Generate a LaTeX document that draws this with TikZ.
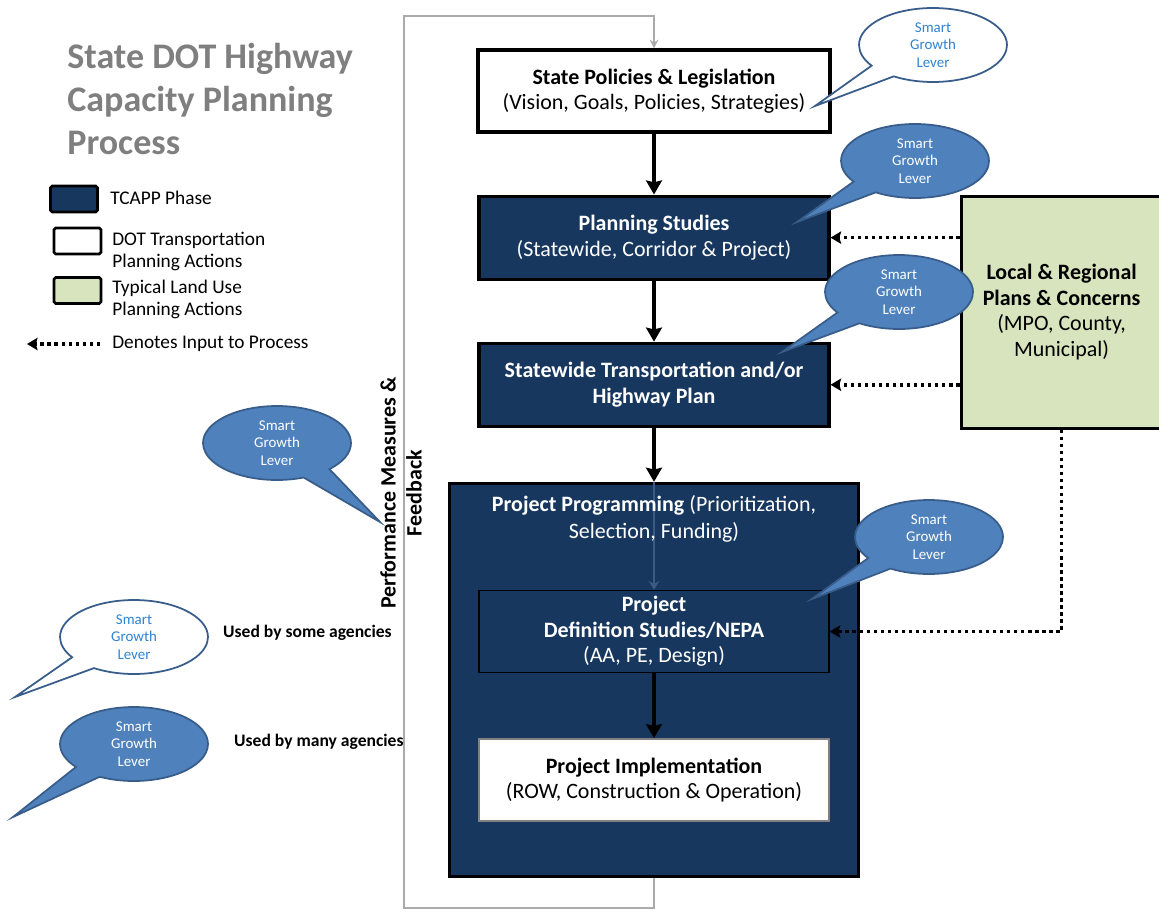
\documentclass[tikz,border=0pt]{standalone}
\usepackage{fontspec}
\setmainfont{Carlito}
\usepackage{xcolor}
\usetikzlibrary{shapes.geometric, shapes.callouts, arrows.meta, positioning}
\definecolor{tcappblue}{RGB}{23,55,94}
\definecolor{landgreen}{RGB}{215,228,189}
\definecolor{leverfill}{RGB}{79,129,189}
\definecolor{leverdraw}{RGB}{56,93,138}
\definecolor{levertext}{RGB}{46,132,210}
\definecolor{titlegray}{RGB}{127,127,127}
\definecolor{loopgray}{RGB}{170,170,170}
\definecolor{innerline}{RGB}{60,90,130}
\newcommand{\bxfont}{\fontsize{12.5}{14.5}\selectfont}
\newcommand{\lgfont}{\fontsize{11}{12.5}\selectfont}
\tikzstyle{phase} = [rectangle, minimum width=7cm, minimum height=1.66cm, align=center, draw=black, line width=1.8pt, fill=tcappblue, text=white, font=\bxfont]
\tikzstyle{action} = [rectangle, minimum width=7cm, minimum height=1.64cm, align=center, draw=black, line width=1.8pt, fill=white, font=\bxfont]
\tikzstyle{land} = [rectangle, minimum width=4.02cm, minimum height=4.64cm, align=center, draw=black, line width=1.8pt, fill=landgreen, font=\bxfont]
\tikzstyle{legbox} = [rectangle, minimum width=0.94cm, minimum height=0.52cm, draw=black, line width=1.5pt, rounded corners=1pt]
\tikzstyle{legtext} = [anchor=west, inner sep=0, align=left, font=\lgfont]
\tikzstyle{arrow} = [line width=2pt,->,>={Stealth[length=8pt,width=9pt,inset=1pt]}]
\tikzstyle{input} = [line width=2pt, dash pattern=on 1.9pt off 2.1pt, ->, >={Stealth[length=6pt,width=7pt,inset=1pt]}]
\tikzstyle{feedback} = [line width=1.2pt, draw=loopgray, ->, >={Stealth[length=5pt,width=5pt]}]
\tikzstyle{lever} = [ellipse callout, minimum width=2.96cm, minimum height=1.48cm, inner sep=0, callout pointer arc=24, draw=leverdraw, line width=1pt, fill=leverfill, text=white, align=center, font=\fontsize{8.5}{9.8}\selectfont]
\tikzstyle{leveropen} = [lever, fill=white, text=levertext]

\begin{document}
\begin{tikzpicture}[x=0.02cm, y=-0.02cm, node distance=1.22cm]
   \useasboundingbox (0,0) rectangle (1159,912);

   % title and legend
   \node (title) [anchor=north west, inner sep=0, align=left, text=titlegray, font=\fontsize{20.5}{24.5}\selectfont\bfseries] at (67,43) {State DOT Highway\\Capacity Planning\\Process};
   \node (legtcapp) [legbox, fill=tcappblue] at (74,199) {};
   \node (legdot) [legbox, fill=white] at (77.5,241) {};
   \node (legland) [legbox, fill=landgreen] at (77.5,290.5) {};
   \node (legtcapptxt) [legtext] at (110,198) {TCAPP Phase};
   \node (legdottxt) [legtext] at (112,251) {DOT Transportation\\Planning Actions};
   \node (leglandtxt) [legtext] at (112,299) {Typical Land Use\\Planning Actions};
   \node (leginputtxt) [legtext] at (112,344) {Denotes Input to Process};
   \coordinate (legA) at (100,344);
   \coordinate (legB) at (27,344);
   \draw [input] (legA) -- (legB);

   % process chain
   \node (policies) [action, minimum width=7.04cm] at (654,91) {\textbf{State Policies \& Legislation}\\(Vision, Goals, Policies, Strategies)};
   \node (planning) [phase, below=of policies] {\textbf{Planning Studies}\\(Statewide, Corridor \& Project)};
   \node (statewide) [phase, below=of planning] {\textbf{Statewide Transportation and/or}\\\textbf{Highway Plan}};
   \node (prog) [phase, minimum width=8.18cm, minimum height=7.86cm, below=1.08cm of statewide] {};
   \draw [innerline, line width=0.8pt, ->, >={Stealth[length=5pt,width=6pt]}] (prog.north) -- ([yshift=-2.16cm]prog.north);
   \node (progtxt) [below=0.27cm of prog.north, inner sep=0, align=center, text=white, font=\fontsize{12.5}{15}\selectfont] {\textbf{Project Programming} (Prioritization,\\Selection, Funding)};
   \node (def) [phase, line width=0.8pt, minimum height=1.64cm, below=2.16cm of prog.north] {\textbf{Project}\\\textbf{Definition Studies/NEPA}\\(AA, PE, Design)};
   \node (impl) [action, draw=gray, line width=0.8pt, below=1.3cm of def] {\textbf{Project Implementation}\\(ROW, Construction \& Operation)};
   \node (local) [land, right=2.58cm of planning.north east, anchor=north west] {\textbf{Local \& Regional}\\\textbf{Plans \& Concerns}\\(MPO, County,\\Municipal)};

   \draw [arrow] (policies) -- (planning);
   \draw [arrow] (planning) -- (statewide);
   \draw [arrow] (statewide) -- (prog);
   \draw [arrow] (def) -- (impl);

   \draw [input] (planning.east -| local.west) -- (planning.east);
   \draw [input] (statewide.east -| local.west) -- (statewide.east);
   \draw [input] (local.south) |- (def.east);

   % feedback loop
   \coordinate (fbbottom) at (404,908);
   \coordinate (fbtop) at (404,16);
   \draw [feedback] (prog.south) |- (fbbottom) -- (fbtop) -| (policies.north);
   \node (perf) [rotate=90, align=center, font=\fontsize{12.5}{14.8}\selectfont\bfseries] at (401,493) {Performance Measures \&\\Feedback};

   % levers
   \node (lever1) [leveropen, callout absolute pointer={(815,106)}] at (933,45) {Smart\\Growth\\Lever};
   \node (lever2) [lever, callout absolute pointer={(797,222)}] at (915,161) {Smart\\Growth\\Lever};
   \node (lever3) [lever, callout absolute pointer={(782,352)}] at (899,292) {Smart\\Growth\\Lever};
   \node (lever4) [lever, callout absolute pointer={(380,522)}] at (277,443) {Smart\\Growth\\Lever};
   \node (lever7) [lever, callout absolute pointer={(812,599)}] at (929,537) {Smart\\Growth\\Lever};
   \node (lever5) [leveropen, callout absolute pointer={(15,697)}] at (134,637) {Smart\\Growth\\Lever};
   \node (lever6) [lever, callout absolute pointer={(13,817)}] at (134,744) {Smart\\Growth\\Lever};
   \node (usedsome) [anchor=west, font=\fontsize{10}{12}\selectfont\bfseries] at (217,633) {Used by some agencies};
   \node (usedmany) [anchor=west, font=\fontsize{10}{12}\selectfont\bfseries] at (228,742) {Used by many agencies};
\end{tikzpicture}
\end{document}
